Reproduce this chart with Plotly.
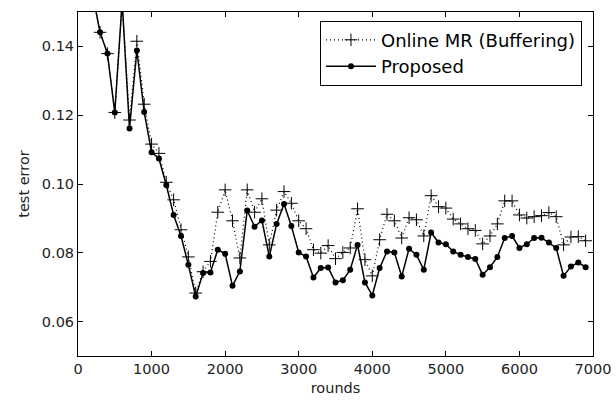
import plotly.graph_objects as go

rounds = [100 * i for i in range(1, 70)]  # 100 .. 6900

online_mr = [
    0.170, 0.155, 0.1441, 0.1379, 0.1208, 0.153, 0.1186, 0.1415, 0.1232, 0.1116,
    0.1089, 0.1005, 0.0954, 0.0867, 0.0788, 0.0683, 0.0745, 0.0775, 0.0918, 0.0983,
    0.0893, 0.0785, 0.0983, 0.0918, 0.0957, 0.0823, 0.0924, 0.0978, 0.0944, 0.0893,
    0.0870, 0.0809, 0.0799, 0.0821, 0.0783, 0.0801, 0.0814, 0.0928, 0.0780, 0.0733,
    0.0838, 0.0912, 0.0893, 0.0843, 0.0902, 0.0896, 0.0849, 0.0966, 0.0934, 0.0930,
    0.0898, 0.0884, 0.0870, 0.0865, 0.0826, 0.0849, 0.0884, 0.0951, 0.0951, 0.0910,
    0.0901, 0.0905, 0.0908, 0.0917, 0.0905, 0.0823, 0.0846, 0.0847, 0.0835,
]

proposed = [
    0.170, 0.155, 0.1441, 0.1379, 0.1208, 0.153, 0.1161, 0.1388, 0.1209, 0.1092,
    0.1074, 0.0997, 0.0910, 0.0849, 0.0765, 0.0673, 0.0741, 0.0743, 0.0809, 0.0797,
    0.0704, 0.0746, 0.0923, 0.0876, 0.0894, 0.0789, 0.0884, 0.0942, 0.0878, 0.0801,
    0.0789, 0.0728, 0.0756, 0.0757, 0.0714, 0.0720, 0.0751, 0.0823, 0.0714, 0.0676,
    0.0756, 0.0804, 0.0801, 0.0731, 0.0812, 0.0794, 0.0751, 0.0859, 0.0830, 0.0825,
    0.0804, 0.0794, 0.0788, 0.0782, 0.0736, 0.0758, 0.0788, 0.0843, 0.0849, 0.0814,
    0.0825, 0.0843, 0.0844, 0.0830, 0.0814, 0.0733, 0.0760, 0.0772, 0.0758,
]

x_ticks = [0, 1000, 2000, 3000, 4000, 5000, 6000, 7000]
y_ticks = [0.06, 0.08, 0.10, 0.12, 0.14]

FONT = "DejaVu Sans"

fig = go.Figure()
fig.add_trace(go.Scatter(
    x=rounds, y=online_mr, name="Online MR (Buffering)",
    mode="lines+markers",
    line=dict(color="black", width=1.2, dash="1px,3px"),
    marker=dict(symbol="cross-thin", size=9, color="black",
                line=dict(color="black", width=1)),
))
fig.add_trace(go.Scatter(
    x=rounds, y=proposed, name="Proposed",
    mode="lines+markers",
    line=dict(color="black", width=1.5),
    marker=dict(symbol="circle", size=6, color="black"),
))

axis_common = dict(
    showgrid=False, zeroline=False, showline=True, linecolor="black",
    linewidth=1, mirror="ticks", ticks="inside", ticklen=5,
    tickcolor="black", automargin=False,
    tickfont=dict(family=FONT, size=14.5, color="#222"),
)

fig.update_layout(
    width=616, height=400,
    margin=dict(l=78, r=23, t=12, b=44),
    paper_bgcolor="white", plot_bgcolor="white",
    font=dict(family=FONT, color="#222"),
    showlegend=True,
    legend=dict(
        x=0.9786, y=0.975, xanchor="right", yanchor="top",
        bordercolor="black", borderwidth=1, bgcolor="white",
        font=dict(family=FONT, size=18, color="black"),
        tracegroupgap=0, itemwidth=50,
    ),
    xaxis=dict(range=[0, 7000], tickvals=x_ticks,
               title=dict(text="rounds", font=dict(family=FONT, size=14.5), standoff=6),
               **axis_common),
    yaxis=dict(range=[0.05, 0.15], tickvals=y_ticks, tickformat=".2f",
               title=dict(text="test error", font=dict(family=FONT, size=14.5), standoff=8),
               **axis_common),
)

fig.write_html("out.html", config={"displayModeBar": False},
               post_script="document.body.style.margin='0';")
